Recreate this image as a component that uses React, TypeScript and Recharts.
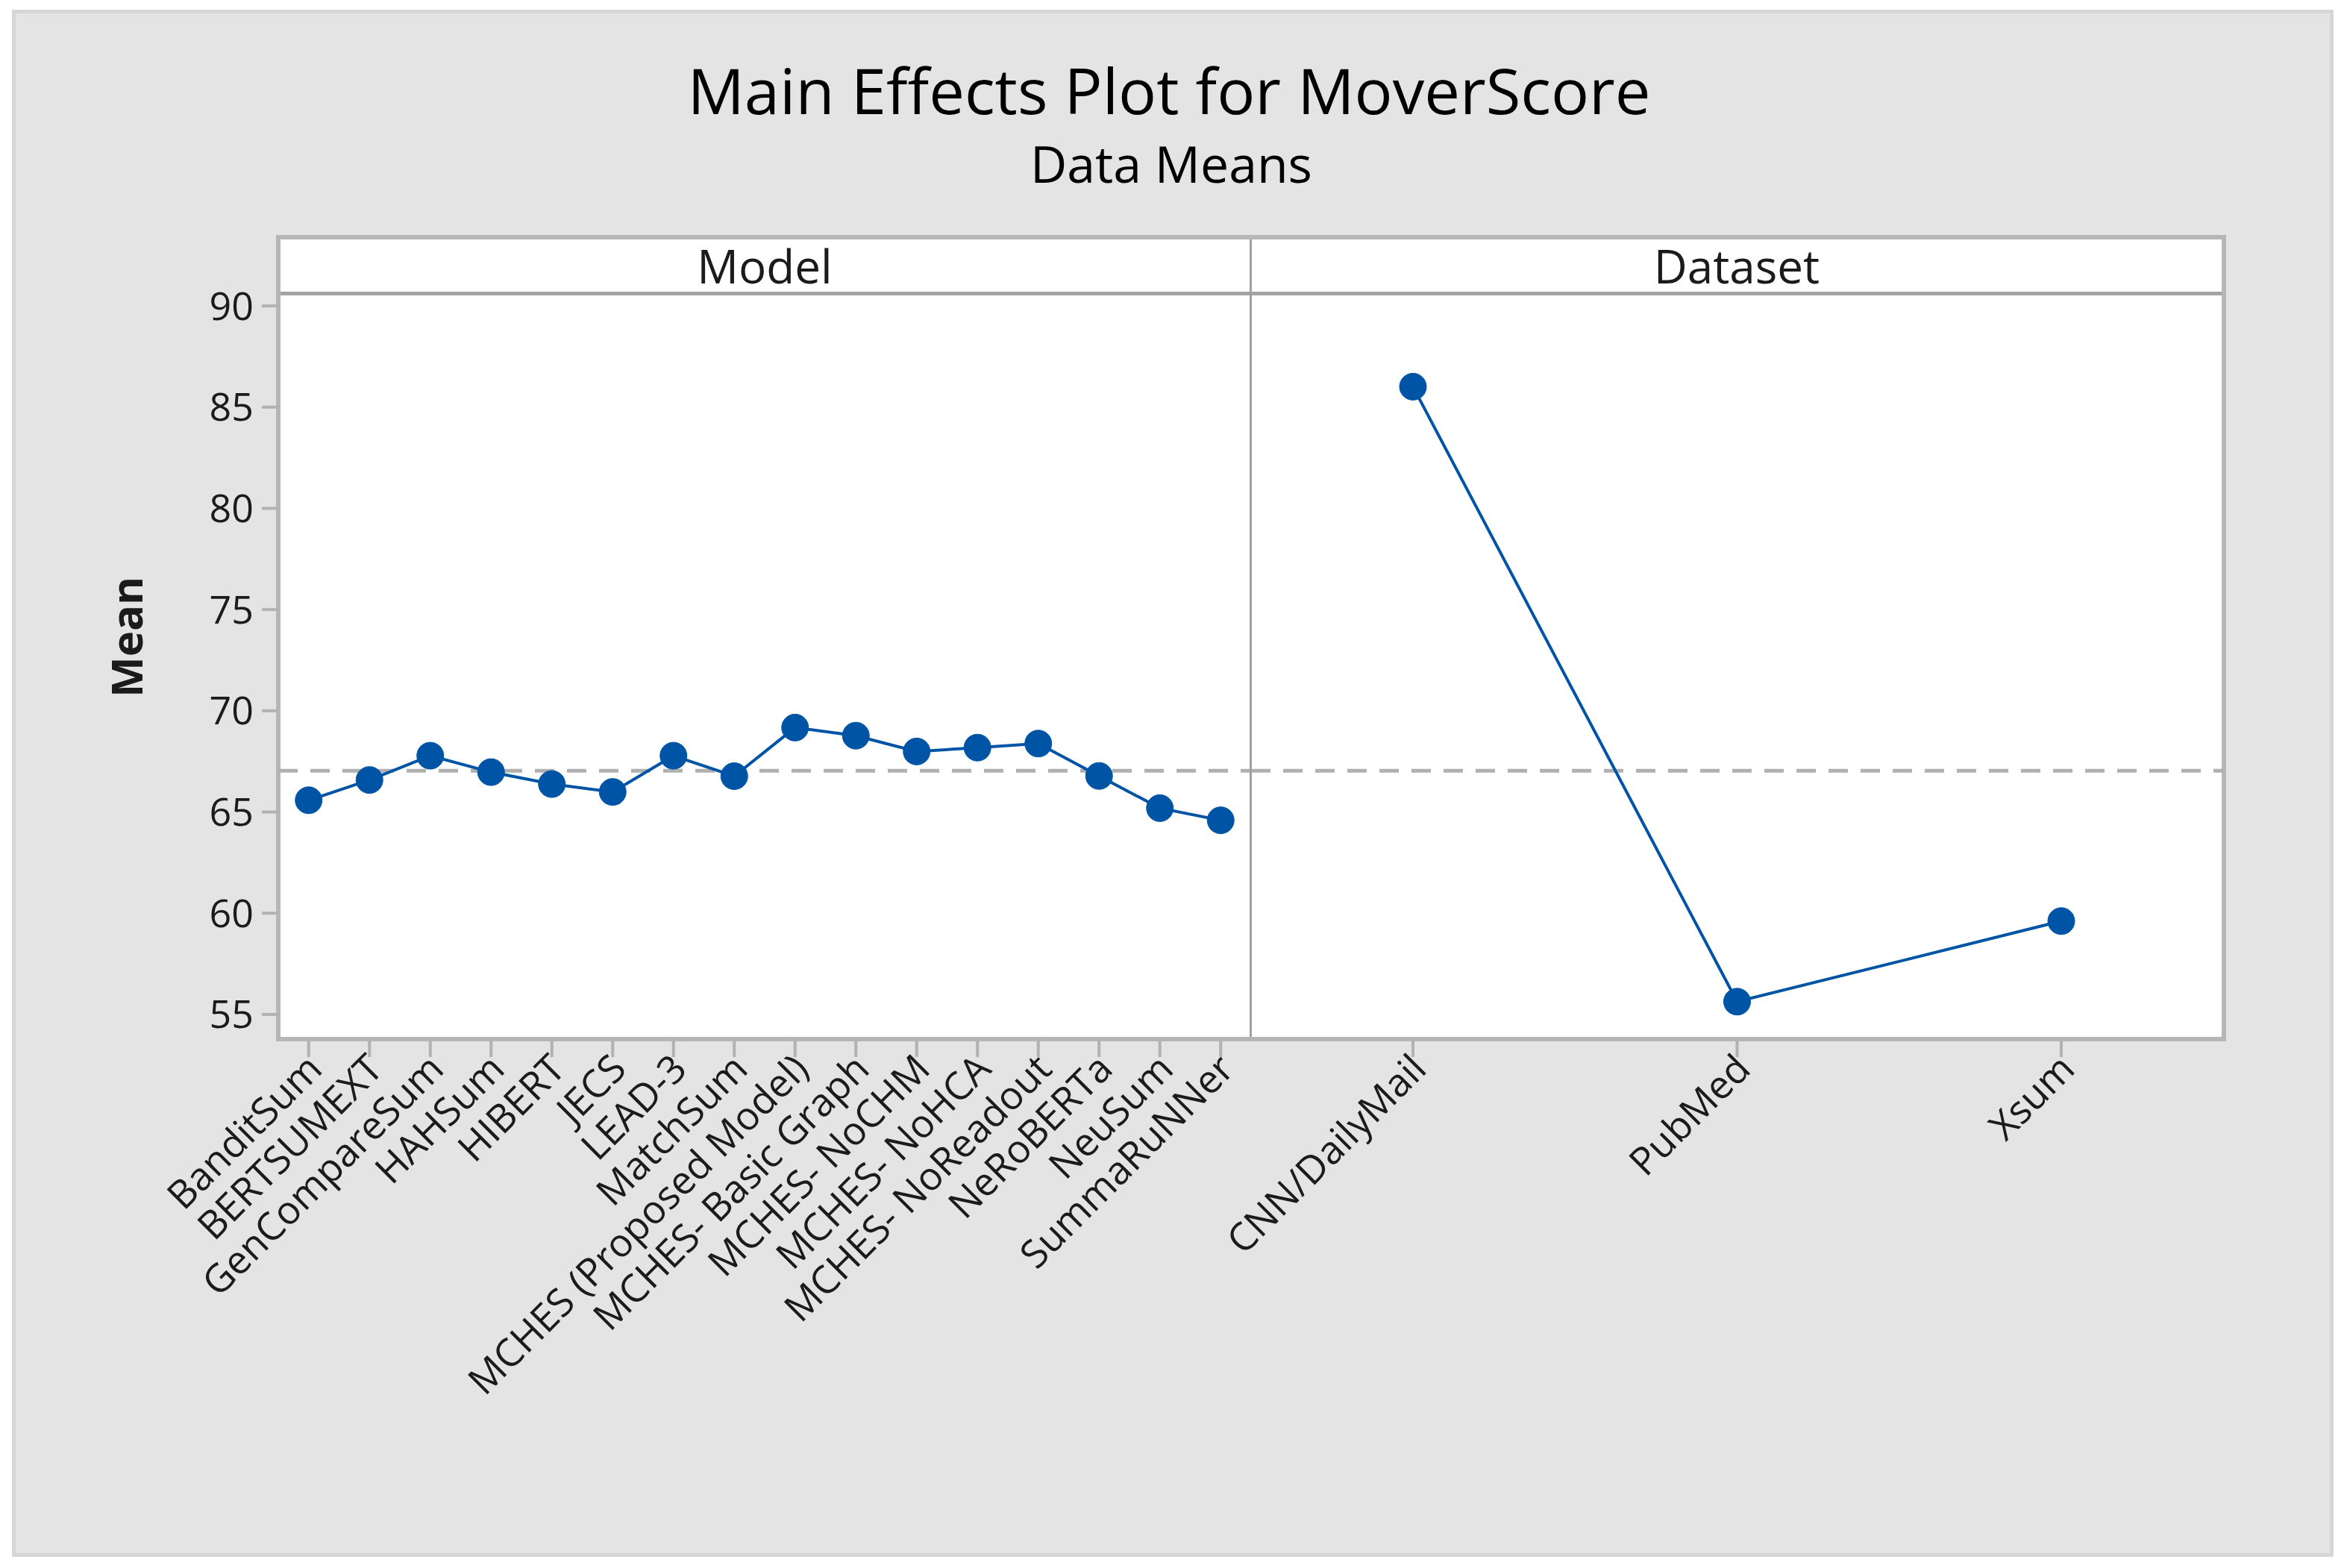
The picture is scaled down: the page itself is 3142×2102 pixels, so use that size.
import { LineChart, Line, XAxis, YAxis, ReferenceLine } from 'recharts';

const models = [
  'BanditSum', 'BERTSUMEXT', 'GenCompareSum', 'HAHSum', 'HIBERT', 'JECS', 'LEAD-3', 'MatchSum',
  'MCHES (Proposed Model)', 'MCHES- Basic Graph', 'MCHES- NoCHM', 'MCHES- NoHCA', 'MCHES- NoReadout',
  'NeRoBERTa', 'NeuSum', 'SummaRuNNer',
];
const modelMeans = [65.58, 66.58, 67.78, 66.97, 66.38, 65.99, 67.78, 66.77, 69.17, 68.77, 67.99, 68.18, 68.38, 66.78, 65.19, 64.59];

const datasets = ['CNN/DailyMail', 'PubMed', 'Xsum'];
const datasetMeans = [86.01, 55.63, 59.61];

const grandMean = 67.04;
const yTicks = [55, 60, 65, 70, 75, 80, 85, 90];
const yDomain = [53.78, 90.63];

const FONT = "'Open Sans', sans-serif";
const BLUE = '#0054a6';
const TEXT = '#1b1b1b';

const modelData = models.map((name, i) => ({ name, mean: modelMeans[i] }));
const datasetData = datasets.map((name, i) => ({ name, mean: datasetMeans[i] }));

function SlantTick({ x, y, payload }: any) {
  return (
    <g transform={`translate(${x + 8},${y + 4})`}>
      <text transform="rotate(-45)" textAnchor="end" dy="0.35em" fontSize={52} fill={TEXT} fontFamily={FONT}>
        {payload.value}
      </text>
    </g>
  );
}

const tickLine = { stroke: '#b2b2b2', strokeWidth: 4 };

// plot area of each panel: 1304px (model) and 1303px (dataset) wide, 1000px tall
function Panel({ data, showY, width, leftSpace, pad }: { data: any[]; showY: boolean; width: number; leftSpace: number; pad: number }) {
  return (
    <LineChart width={width} height={1650} data={data} margin={{ top: 50, right: 0, bottom: 0, left: showY ? 0 : leftSpace }}>
      <XAxis
        dataKey="name"
        height={600}
        interval={0}
        axisLine={false}
        tickSize={24}
        tickLine={tickLine}
        tick={<SlantTick />}
        padding={{ left: pad, right: pad }}
      />
      <YAxis
        type="number"
        domain={yDomain}
        ticks={yTicks}
        allowDataOverflow
        hide={!showY}
        width={showY ? leftSpace : 0}
        axisLine={false}
        tickSize={22}
        tickMargin={11}
        tickLine={tickLine}
        tick={{ fontSize: 52, fill: TEXT, fontFamily: FONT }}
      />
      <ReferenceLine y={grandMean} stroke="#b0b0b0" strokeWidth={5} strokeDasharray="26 17" />
      <Line
        dataKey="mean"
        stroke={BLUE}
        strokeWidth={4}
        dot={{ r: 18, fill: BLUE, stroke: BLUE, strokeWidth: 1 }}
        isAnimationActive={false}
      />
    </LineChart>
  );
}

export default function App() {
  return (
    <div style={{ position: 'absolute', left: 0, top: 0, width: 3142, height: 2102, background: '#fff', overflow: 'hidden' }}>
      <div style={{ position: 'absolute', left: 16, top: 13, width: 3112, height: 2074, background: '#e4e4e4', border: '5px solid #d6d6d6', boxSizing: 'border-box' }} />
      <div style={{ position: 'absolute', left: 370, top: 315, width: 2614, height: 1081, background: '#fff', border: '6px solid #b6b6b6', boxSizing: 'border-box' }} />

      <div style={{ position: 'absolute', left: 0, top: 343 }}>
        <Panel data={modelData} showY width={1677} leftSpace={373} pad={40.75} />
      </div>
      <div style={{ position: 'absolute', left: 1377, top: 343 }}>
        <Panel data={datasetData} showY={false} width={1603} leftSpace={300} pad={217} />
      </div>

      <svg width={3142} height={2102} style={{ position: 'absolute', left: 0, top: 0, pointerEvents: 'none' }}>
        <rect x={376} y={391} width={2602} height={5} fill="#a3a3a3" />
        <rect x={1675} y={321} width={3} height={1069} fill="#a0a0a0" />
        <text x={1567} y={153} textAnchor="middle" fontSize={85} fill="#000" fontFamily={FONT}>Main Effects Plot for MoverScore</text>
        <text x={1570} y={245} textAnchor="middle" fontSize={68} fill="#000" fontFamily={FONT}>Data Means</text>
        <text x={1025} y={380} textAnchor="middle" fontSize={62} fill={TEXT} fontFamily={FONT}>Model</text>
        <text x={2328} y={380} textAnchor="middle" fontSize={62} fill={TEXT} fontFamily={FONT}>Dataset</text>
        <text transform="translate(168,854) rotate(-90)" textAnchor="middle" dominantBaseline="central" fontSize={58} fontWeight="bold" fill={TEXT} fontFamily={FONT}>Mean</text>
      </svg>
    </div>
  );
}
